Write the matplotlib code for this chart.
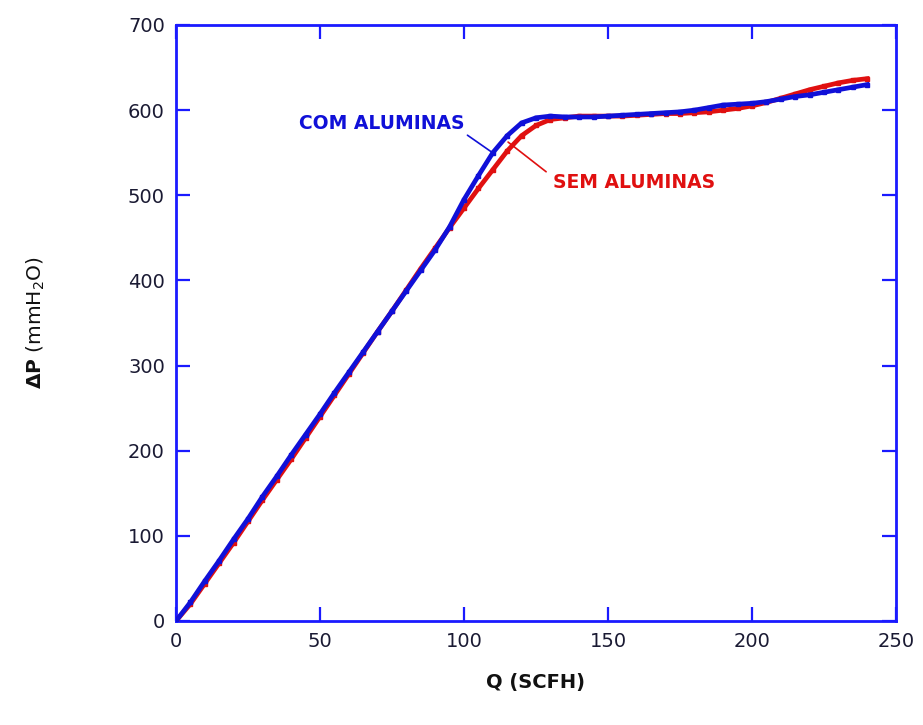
import matplotlib
matplotlib.use("Agg")
import matplotlib.pyplot as plt

# Q (SCFH) and ΔP (mmH2O)
q_com = [0, 5, 10, 15, 20, 25, 30, 35, 40, 45, 50, 55, 60, 65, 70, 75, 80, 85, 90, 95,
         100, 105, 110, 115, 120, 125, 130, 135, 140, 145, 150, 155, 160, 165, 170, 175,
         180, 185, 190, 195, 200, 205, 210, 215, 220, 225, 230, 235, 240]
p_com = [0, 22, 47, 71, 96, 120, 146, 170, 195, 219, 243, 268, 292, 316, 340, 364, 388, 412, 436, 463,
         495, 523, 550, 570, 585, 591, 593, 592, 592, 592, 593, 594, 595, 596, 597, 598,
         600, 603, 606, 607, 608, 610, 613, 616, 618, 621, 624, 627, 630]

q_sem = [0, 5, 10, 15, 20, 25, 30, 35, 40, 45, 50, 55, 60, 65, 70, 75, 80, 85, 90, 95,
         100, 105, 110, 115, 120, 125, 130, 135, 140, 145, 150, 155, 160, 165, 170, 175,
         180, 185, 190, 195, 200, 205, 210, 215, 220, 225, 230, 235, 240]
p_sem = [0, 20, 44, 68, 92, 117, 142, 166, 190, 215, 240, 265, 290, 315, 340, 364, 389, 414, 438, 462,
         485, 508, 530, 552, 570, 582, 589, 591, 593, 593, 593, 593, 594, 595, 596, 596,
         597, 598, 600, 602, 605, 609, 614, 619, 624, 628, 632, 635, 637]

x_ticks = [0, 50, 100, 150, 200, 250]
y_ticks = [0, 100, 200, 300, 400, 500, 600, 700]

BLUE = "#1010d8"
RED = "#e01010"
FRAME = "#1a1aff"

plt.rcParams['font.family'] = ['DejaVu Sans']
plt.rcParams['mathtext.fontset'] = 'dejavusans'

fig = plt.figure(figsize=(9.23, 7.25), dpi=100)
ax = fig.add_axes([176/923, 1-621/725, (896-176)/923, (621-25)/725])

ax.plot(q_sem, p_sem, color=RED, lw=3.4, marker='s', ms=3.5, mfc=RED, mec=RED, zorder=3)
ax.plot(q_com, p_com, color=BLUE, lw=3.4, marker='s', ms=3.5, mfc=BLUE, mec=BLUE, zorder=4)

ax.set_xlim(0, 250)
ax.set_ylim(0, 700)
ax.set_xticks(x_ticks)
ax.set_yticks(y_ticks)
ax.tick_params(direction='in', length=10, width=1.6, color=FRAME, labelsize=14,
               labelcolor='#1a1a33', top=True, right=True, pad=8)
for s in ax.spines.values():
    s.set_color(FRAME)
    s.set_linewidth(2)

ax.set_xlabel('Q (SCFH)', fontsize=14, fontweight='bold', color='#111111', labelpad=16)
ax.set_ylabel(r'$\mathbf{\Delta P}$ (mmH$_2$O)', fontsize=14.5, color='#111111', labelpad=58)

ax.annotate('COM ALUMINAS', xy=(109.5, 551), xytext=(71.5, 584), color=BLUE,
            fontsize=13.5, fontweight='bold', ha='center', va='center',
            arrowprops=dict(arrowstyle='-', color=BLUE, lw=1.2, shrinkA=0, shrinkB=0,
                            relpos=(1.0, 0.0)), zorder=5)
ax.annotate('SEM ALUMINAS', xy=(115.3, 562.5), xytext=(131, 515.5), color=RED,
            fontsize=13.5, fontweight='bold', ha='left', va='center',
            arrowprops=dict(arrowstyle='-', color=RED, lw=1.2, shrinkA=4, shrinkB=0,
                            relpos=(0.0, 0.75)), zorder=5)

fig.savefig('out.png', dpi=100)
